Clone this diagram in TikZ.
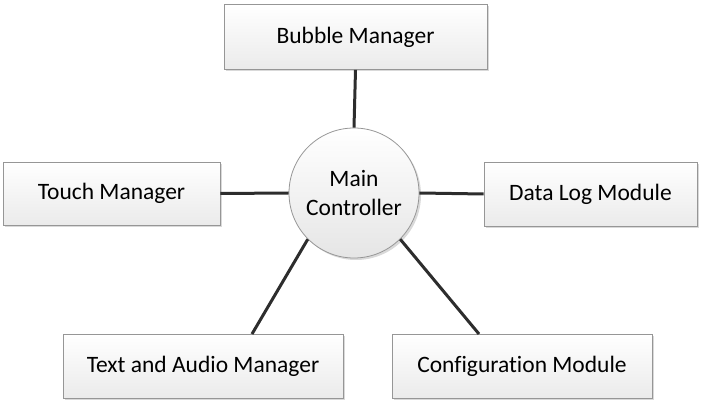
\documentclass[tikz,border=0pt]{standalone}
\usepackage{fontspec}
\setmainfont{Carlito}[Ligatures=NoCommon]
\usetikzlibrary{shadows}
\definecolor{boxline}{RGB}{150,150,150}
\definecolor{link}{RGB}{45,45,45}
\begin{document}
\begin{tikzpicture}[x=1pt,y=-1pt,
  mbox/.style={draw=boxline, line width=0.8pt, top color=white, bottom color=black!8,
    drop shadow={shadow xshift=2pt, shadow yshift=-2pt, fill=black!25, opacity=0.6},
    font=\fontsize{23.5}{28}\selectfont},
  link/.style={draw=link, line width=3pt}]
\useasboundingbox (0,0) rectangle (701,403);
\node[mbox, minimum width=263pt, minimum height=65pt] (bubble) at (355.5,37) {Bubble Manager};
\node[mbox, minimum width=217pt, minimum height=63pt] (touch) at (111.5,193.5) {Touch Manager};
\node[mbox, minimum width=213pt, minimum height=64pt] (data) at (590.5,194) {Data Log Module};
\node[mbox, minimum width=280pt, minimum height=64pt] (text) at (203,366) {Text and Audio Manager};
\node[mbox, minimum width=260pt, minimum height=64pt] (config) at (522,366) {Configuration Module};
\node[circle, draw=boxline, line width=0.8pt, top color=white, bottom color=black!10,
  drop shadow={shadow xshift=2pt, shadow yshift=-2pt, fill=black!25, opacity=0.6},
  minimum size=130pt, inner sep=0pt, align=center,
  font=\fontsize{23.5}{29}\selectfont] (main) at (354,193) {Main\\Controller};
\coordinate (tl) at (252,334);
\coordinate (cl) at (479,334);
\draw[link] (main.north) -- (bubble.south);
\draw[link] (main.west) -- (touch.east);
\draw[link] (main.east) -- (data.west);
\draw[link] (main.-135) -- (tl);
\draw[link] (main.-45) -- (cl);
\end{tikzpicture}
\end{document}
